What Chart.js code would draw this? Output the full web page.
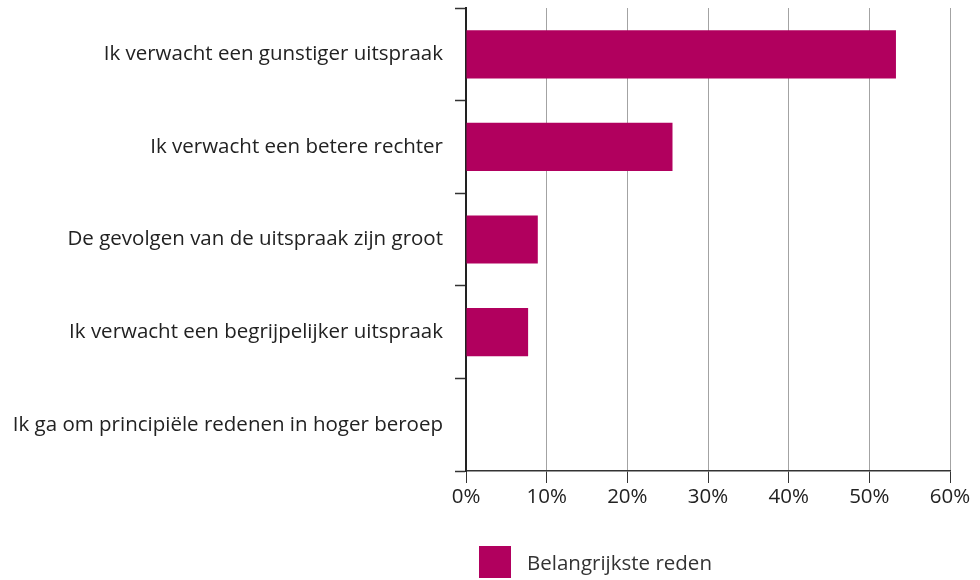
<!DOCTYPE html>
<html>
<head>
<meta charset="utf-8">
<script src="https://cdn.jsdelivr.net/npm/chart.js@4.4.1/dist/chart.umd.min.js"></script>
<style>
  html, body { margin: 0; padding: 0; background: #fff; }
  #wrap { width: 980px; height: 580px; position: relative; }
</style>
</head>
<body>
<div id="wrap"><canvas id="chart"></canvas></div>
<script>
// === Data ===
const categories = [
  'Ik verwacht een gunstiger uitspraak',
  'Ik verwacht een betere rechter',
  'De gevolgen van de uitspraak zijn groot',
  'Ik verwacht een begrijpelijker uitspraak',
  'Ik ga om principiële redenen in hoger beroep'
];
const values = [53.3, 25.6, 8.9, 7.7, 0];
const seriesName = 'Belangrijkste reden';
const xTicks = [0, 10, 20, 30, 40, 50, 60];

const barColor = '#b1005e';
const fontFamily = '"Open Sans", Lato, sans-serif';

// legend drawn under the axis, starting near the plot's left edge
const legendPlugin = {
  id: 'bottomLegend',
  afterDraw(chart) {
    const ctx = chart.ctx;
    const ds = chart.data.datasets[0];
    const x = chart.chartArea.left + 13;
    const y = 546;
    ctx.save();
    ctx.fillStyle = ds.backgroundColor;
    ctx.fillRect(x, y, 32, 32);
    ctx.fillStyle = '#333';
    ctx.font = '20.5px ' + fontFamily;
    ctx.textBaseline = 'middle';
    ctx.fillText(ds.label, x + 48, y + 18);
    ctx.restore();
  }
};

const ctx = document.getElementById('chart').getContext('2d');
new Chart(ctx, {
  type: 'bar',
  data: {
    labels: categories,
    datasets: [{
      label: seriesName,
      data: values,
      backgroundColor: barColor,
      categoryPercentage: 0.52,
      barPercentage: 1
    }]
  },
  options: {
    indexAxis: 'y',
    responsive: true,
    maintainAspectRatio: false,
    animation: false,
    layout: { padding: { top: 8, right: 30, left: 0, bottom: 0 } },
    plugins: {
      legend: { display: false },
      tooltip: { enabled: false }
    },
    scales: {
      x: {
        min: 0,
        max: 60,
        afterBuildTicks(scale) { scale.ticks = xTicks.map(v => ({ value: v })); },
        afterFit(scale) {
          scale.height = 109;
          scale.paddingLeft = 0;
          scale.paddingRight = 0;
        },
        ticks: {
          color: '#222',
          padding: 2,
          font: { family: fontFamily, size: 20.5 },
          callback: v => v + '%'
        },
        grid: {
          color: '#a3a3a3',
          lineWidth: 1,
          tickLength: 12,
          tickColor: '#333',
          tickWidth: 1
        },
        border: { color: '#333', width: 1.5 }
      },
      y: {
        afterFit(scale) {
          scale.width = 466;
          scale.paddingTop = 0;
          scale.paddingBottom = 0;
        },
        ticks: {
          color: '#222',
          padding: 12,
          font: { family: fontFamily, size: 20.5 }
        },
        grid: {
          offset: true,
          drawOnChartArea: false,
          tickLength: 11,
          tickColor: '#333',
          tickWidth: 1.5
        },
        border: { color: '#222', width: 2 }
      }
    }
  },
  plugins: [legendPlugin]
});
</script>
</body>
</html>
